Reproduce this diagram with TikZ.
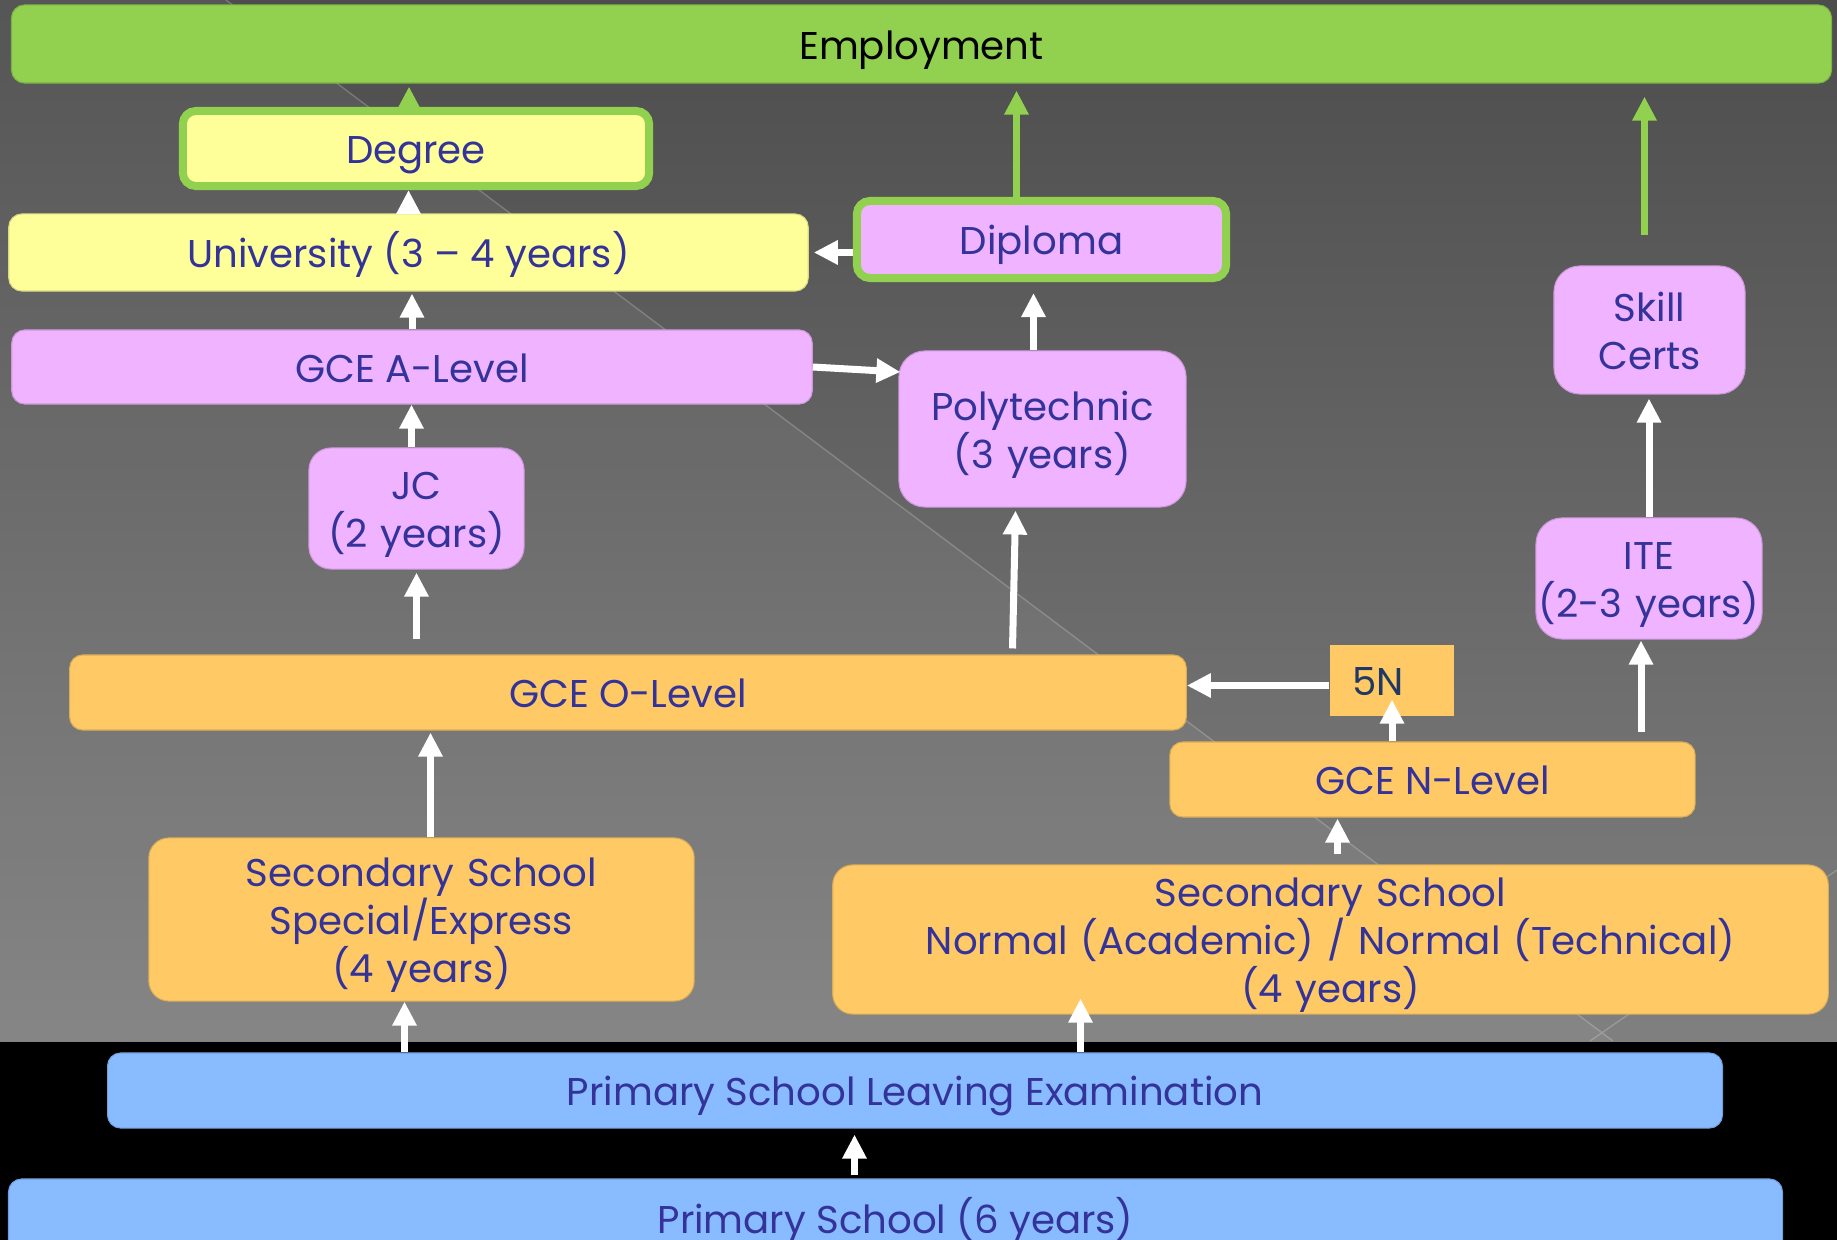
\documentclass[tikz,border=0pt]{standalone}
\usepackage{fontspec}
\setmainfont{Poppins}
\usetikzlibrary{arrows.meta}
\usetikzlibrary{calc}
\definecolor{employgreen}{HTML}{92D050}
\definecolor{degreeyellow}{HTML}{FFFF99}
\definecolor{polypink}{HTML}{F0B3FF}
\definecolor{secorange}{HTML}{FFCA66}
\definecolor{primblue}{HTML}{88BBFF}
\definecolor{labelblue}{HTML}{333399}
\definecolor{fivenavy}{HTML}{1F3864}
\newcommand{\boxfont}{\fontsize{11}{13.7}\selectfont}
\newcommand{\boxtopstrut}{\rule{0pt}{11.8pt}}
\newcommand{\boxbotstrut}{\rule[-3.2pt]{0pt}{3.2pt}}

\begin{document}
\begin{tikzpicture}[x=0.01cm, y=-0.01cm,
 box/.style={rounded corners=1.3mm, inner sep=0pt, align=center, text=labelblue, font=\boxfont, draw=#1!85!black, line width=0.3pt, fill=#1, execute at begin node=\boxtopstrut, execute at end node=\boxbotstrut},
 box/.default=secorange,
 tall/.style={box=#1, rounded corners=2.6mm},
 award/.style={box=#1, draw=employgreen, line width=0.08cm},
 up/.style={draw=white, line width=0.07cm, -{Triangle[width=0.23cm,length=0.24cm]}},
 upgreen/.style={up, draw=employgreen}]
\useasboundingbox (0,0) rectangle (1837,1240);
\clip (0,0) rectangle (1837,1240);
\fill[black] (0,0) rectangle (1837,1240);
\shade[top color=black!70, bottom color=black!50] (0,0) rectangle (1837,1041);
\fill[white, opacity=.05] (0,0) -- (226,0) -- (1613,1041) -- (0,1041) -- cycle;
\draw[white, opacity=.2, line width=0.4pt] (226,0) -- (1613,1041) (1590,1041) -- (1837,870);

\node[box=employgreen, text=black, minimum width=18.19cm, minimum height=0.78cm] (employment) at (921.5,44) {Employment};
\node[award=degreeyellow, minimum width=4.66cm, minimum height=0.75cm] (degree) at (416,148.5) {Degree};
\node[box=degreeyellow, minimum width=7.99cm, minimum height=0.77cm] (university) at (408.5,252.5) {University (3 -- 4 years)};
\node[award=polypink, minimum width=3.69cm, minimum height=0.77cm] (diploma) at (1041.5,239.5) {Diploma};
\node[box=polypink, minimum width=8cm, minimum height=0.74cm] (alevel) at (412,367) {GCE A-Level};
\node[tall=polypink, text width=2.87cm, minimum height=1.56cm] (poly) at (1042.5,429) {Polytechnic\\(3 years)};
\node[tall=polypink, rounded corners=2.2mm, text width=2.15cm, minimum height=1.21cm] (jc) at (416.5,508.5) {JC\\(2 years)};
\node[tall=polypink, text width=1.91cm, minimum height=1.28cm] (skill) at (1649.5,330) {Skill\\Certs};
\node[tall=polypink, text width=2.26cm, minimum height=1.21cm] (ite) at (1649,578.5) {ITE\\(2-3 years)};
\node[box, minimum width=11.16cm, minimum height=0.75cm] (olevel) at (628,692.5) {GCE O-Level};
\node[box, rounded corners=0pt, draw=none, text=fivenavy, minimum height=0.71cm, text width=0.8cm, align=left, inner xsep=0.22cm] (fiveN) at (1392,680.5) {5N};
\node[box, minimum width=5.25cm, minimum height=0.75cm] (nlevel) at (1432.5,779.5) {GCE N-Level};
\node[tall, rounded corners=2mm, text width=5.45cm, minimum height=1.63cm] (secA) at (421.5,919.5) {Secondary School\\Special/Express\\(4 years)};
\node[tall, rounded corners=2mm, text width=9.95cm, minimum height=1.45cm] (secN) at (1330.5,939.5) {Secondary School\\Normal (Academic) / Normal (Technical)\\(4 years)};
\node[box=primblue, minimum width=16.14cm, minimum height=0.75cm] (psle) at (915,1090.5) {Primary School Leaving Examination};
\node[box=primblue, minimum width=17.73cm, minimum height=0.78cm] (primary) at (895.5,1218) {Primary School (6 years)};

\draw[upgreen] ($(degree.north)+(-7,0)$) -- ($(degree.north |- employment.south)+(-7,3)$);
\draw[upgreen] ($(diploma.north)+(-25,0)$) -- ($(diploma.north |- employment.south)+(-25,7)$);
\draw[upgreen] ($(skill.north)+(-5,-30)$) -- ($(skill.north |- employment.south)+(-5,13)$);
\draw[up] (university.north) -- (university.north |- degree.south);
\draw[up] (alevel.north) -- ($(alevel.north |- university.south)+(0,2)$);
\draw[up] ($(jc.north)+(-5,0)$) -- ($(jc.north |- alevel.south)+(-5,0)$);
\draw[up] ($(jc.south |- olevel.north)+(0,-15)$) -- ($(jc.south)+(0,3)$);
\draw[up] (diploma.west |- university.east) -- ($(university.east)+(5,0)$);
\draw[up] (alevel.east) -- ($(poly.west)+(2,-57)$);
\draw[up] ($(poly.south |- olevel.north)+(-30,-6)$) -- ($(poly.south)+(-27,3)$);
\draw[up] ($(poly.north)+(-9,0)$) -- ($(poly.north |- diploma.south)+(-9,11)$);
\draw[up] (ite.north) -- ($(ite.north |- skill.south)+(0,4)$);
\draw[up] ($(ite.south |- nlevel.north)+(-8,-9)$) -- ($(ite.south)+(-8,1)$);
\draw[up] (nlevel.north -| fiveN.south) -- ($(fiveN.south)+(0,-17)$);
\draw[up] ($(fiveN.west)+(0,5)$) -- (olevel.east |- {$(fiveN.west)+(0,5)$});
\draw[up] ($(secA.north)+(9,0)$) -- ($(secA.north |- olevel.south)+(9,2)$);
\draw[up] ($(psle.north -| secA.south)+(-17,0)$) -- ($(secA.south)+(-17,0)$);
\draw[up] ($(secN.south |- psle.north)+(-250,0)$) -- ($(secN.south)+(-250,-16)$);
\draw[up] ($(secN.north)+(7,-10)$) -- ($(secN.north |- nlevel.south)+(7,1)$);
\draw[up] ($(primary.north)+(-41,-3)$) -- ($(primary.north |- psle.south)+(-41,6)$);
\end{tikzpicture}
\end{document}
